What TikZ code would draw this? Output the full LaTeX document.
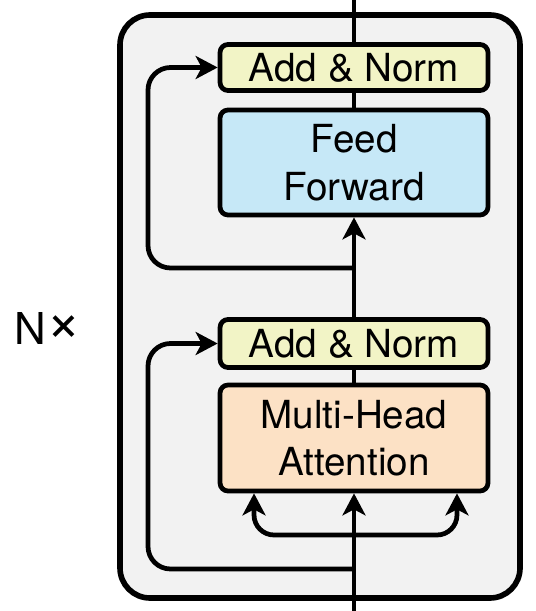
\documentclass[tikz,border=0pt]{standalone}
\usepackage{fontspec}
\setmainfont{TeX Gyre Heros}
\usetikzlibrary{arrows.meta}
\definecolor{normyellow}{HTML}{F2F4C6}
\definecolor{ffblue}{HTML}{C6E8F7}
\definecolor{attpeach}{HTML}{FCE1C5}
\definecolor{layergray}{HTML}{F2F2F2}
\tikzset{
  block/.style={draw, line width=2.7pt, rounded corners=0.16cm, minimum width=5.36cm, align=center, font=\fontsize{22}{27}\selectfont},
  flow/.style={line width=2.7pt},
  arr/.style={flow, -{Stealth[length=0.44cm, width=0.46cm, inset=0.12cm]}}
}
\begin{document}
\begin{tikzpicture}[x=0.02cm, y=-0.02cm]
\useasboundingbox (0,0) rectangle (535,611);
\draw[line width=3.2pt, fill=layergray, rounded corners=0.6cm] (120,15) rectangle (520,598);
\node[font=\fontsize{25}{30}\selectfont] (nx) at (48,328) {N\raisebox{0.1ex}{\fontsize{34}{34}\selectfont ×}};
\node[block, fill=normyellow, minimum height=0.92cm] (an1) at (354,67.5) {Add \& Norm};
\node[block, fill=ffblue, minimum height=2.1cm] (ff) at (354,162.5) {Feed\\Forward};
\node[block, fill=normyellow, minimum height=0.96cm] (an2) at (354,343.5) {Add \& Norm};
\node[block, fill=attpeach, minimum height=2.12cm] (mha) at (354,438) {Multi-Head\\Attention};
\coordinate (out) at (354,0);
\coordinate (in) at (354,611);
\coordinate (r1) at (354,268);
\coordinate (l1) at (148,268);
\coordinate (r2) at (354,569);
\coordinate (l2) at (148,569);
\coordinate (fork) at (354,535);
% main path
\draw[arr] (in) -- (mha);
\draw[flow] (mha) -- (an2);
\draw[arr] (an2) -- (ff);
\draw[flow] (ff) -- (an1);
\draw[flow] (an1) -- (out);
% residuals
\draw[arr, rounded corners=0.45cm] (r2) -- (l2) |- (an2.west);
\draw[arr, rounded corners=0.45cm] (r1) -- (l1) |- (an1.west);
% q, k, v
\draw[arr, rounded corners=0.4cm] (fork) -| ([xshift=-2cm]mha.south);
\draw[arr, rounded corners=0.4cm] (fork) -| ([xshift=2.06cm]mha.south);
\end{tikzpicture}
\end{document}
